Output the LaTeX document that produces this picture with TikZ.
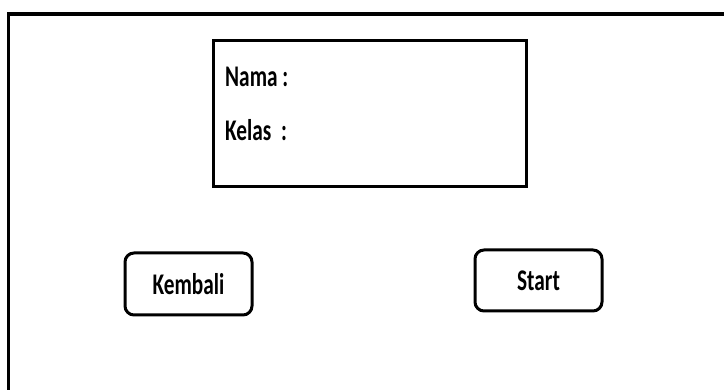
\documentclass[tikz,border=0pt]{standalone}
\usepackage{fontspec}
\newfontfamily\uifont[FakeStretch=0.71]{Carlito}
\begin{document}
\begin{tikzpicture}[x=1pt,y=-1pt,
  frameline/.style={line width=3.5pt, line join=miter},
  panel/.style={draw, line width=3pt, inner sep=0pt},
  btn/.style={draw, line width=3pt, rounded corners=9pt, inner sep=0pt,
    font=\uifont\bfseries\fontsize{30}{34}\selectfont},
  lbl/.style={font=\uifont\bfseries\fontsize{30}{34}\selectfont, inner sep=0pt}]
\useasboundingbox (0,0) rectangle (724,390);
\coordinate (fbl) at (8.5,400);
\coordinate (ftl) at (8.5,14);
\coordinate (ftr) at (735,14);
\draw[frameline] (fbl) -- (ftl) -- (ftr);
\node[panel, minimum width=312.5pt, minimum height=146pt] (form) at (369.75,114) {};
\node[lbl, anchor=base west] (nama) at (225,87) {Nama :};
\node[lbl, anchor=base west] (kelas) at (225,141) {Kelas\ \ :};
\node[btn, minimum width=127pt, minimum height=62pt] (kembali) at (188.5,284) {Kembali};
\node[btn, minimum width=127pt, minimum height=61pt] (start) at (538.5,280.5) {Start};
\end{tikzpicture}
\end{document}
